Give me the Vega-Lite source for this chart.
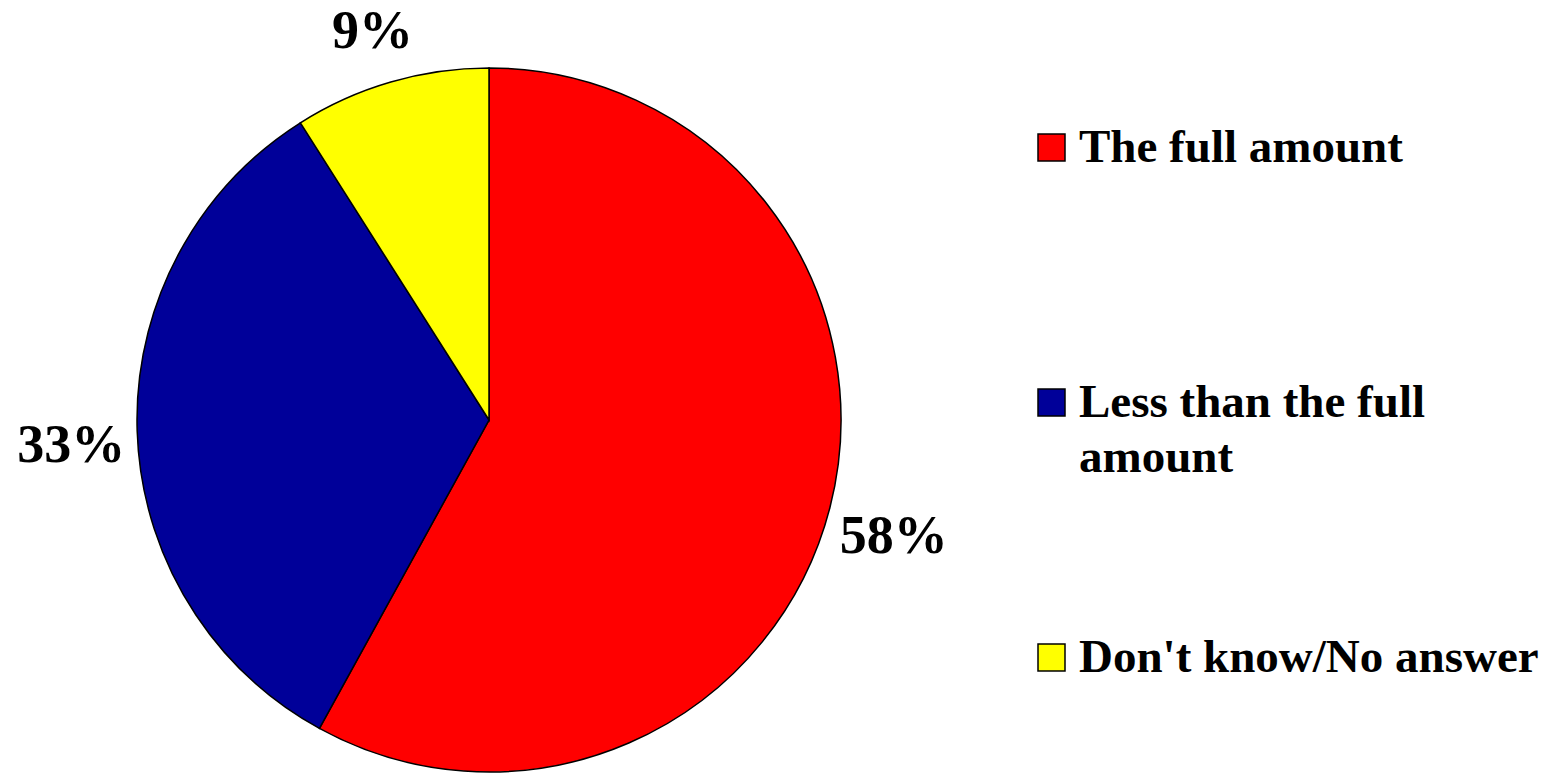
{
  "$schema": "https://vega.github.io/schema/vega-lite/v6.json",
  "width": 978,
  "height": 840,
  "autosize": {"type": "none"},
  "padding": {"left": 0, "top": 0, "right": 582, "bottom": 0},
  "background": "white",
  "config": {"view": {"stroke": null}},
  "data": {"values": [
    {"category": "The full amount", "value": 58, "label": "58%", "idx": 1},
    {"category": "Less than the full amount", "value": 33, "label": "33%", "idx": 2},
    {"category": "Don't know/No answer", "value": 9, "label": "9%", "idx": 3}
  ]},
  "encoding": {
    "theta": {"field": "value", "type": "quantitative", "stack": true},
    "order": {"field": "idx", "type": "quantitative"}
  },
  "layer": [
    {
      "mark": {"type": "arc", "outerRadius": 352, "stroke": "black", "strokeWidth": 1.5},
      "encoding": {
        "color": {
          "field": "category",
          "type": "nominal",
          "scale": {
            "domain": ["The full amount", "Less than the full amount", "Don't know/No answer"],
            "range": ["#FF0000", "#000099", "#FFFF00"]
          },
          "legend": {
            "title": null,
            "orient": "none",
            "legendX": 1028,
            "legendY": 124,
            "padding": 0,
            "symbolType": "square",
            "symbolSize": 729,
            "symbolStrokeColor": "black",
            "symbolStrokeWidth": 1.5,
            "symbolOpacity": 1,
            "labelFont": "Liberation Serif",
            "labelFontWeight": "bold",
            "labelFontSize": 47,
            "labelColor": "black",
            "labelOffset": 4,
            "labelLimit": 700,
            "rowPadding": 152,
            "labelExpr": "datum.label == 'Less than the full amount' ? ['Less than the full', 'amount'] : [datum.label, '']",
            "encode": {"labels": {"update": {"lineHeight": {"value": 55}}}}
          }
        }
      }
    },
    {
      "mark": {"type": "text", "radius": 418, "dy": 13, "font": "Liberation Serif", "fontWeight": "bold", "fontSize": 54, "fill": "black"},
      "encoding": {"text": {"field": "label", "type": "nominal"}}
    }
  ]
}
